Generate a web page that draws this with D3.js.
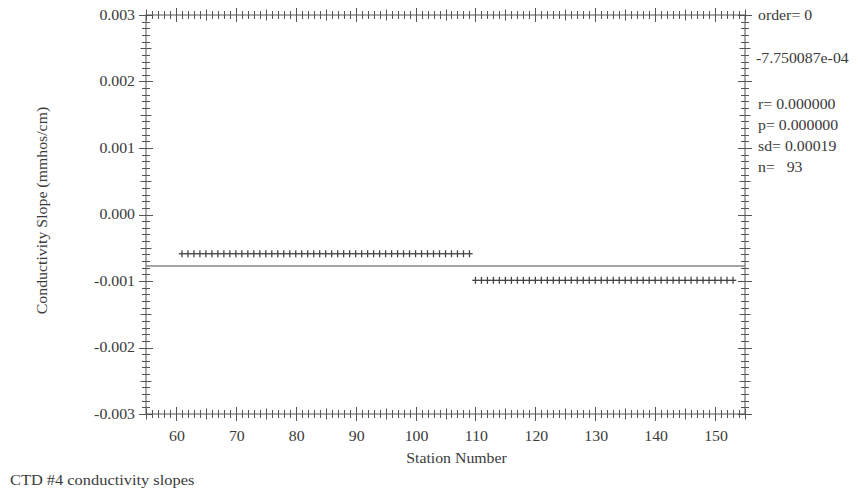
<!DOCTYPE html>
<html>
<head>
<meta charset="utf-8">
<script src="https://cdn.jsdelivr.net/npm/d3@7"></script>
<style>
  html, body { margin: 0; padding: 0; background: #fff; }
</style>
</head>
<body>
<svg id="chart" width="858" height="491"></svg>
<script>
// ---- data ----
const stationsGroupA = d3.range(61, 110);            // stations 61..109
const valueGroupA = -0.00059;
const stationsGroupB = d3.range(110, 154);           // stations 110..153
const valueGroupB = -0.00099;
const meanValue = -7.750087e-04;
const xTickValues = [60, 70, 80, 90, 100, 110, 120, 130, 140, 150];
const yTickValues = [0.003, 0.002, 0.001, 0.000, -0.001, -0.002, -0.003];
const statsLines = ["order= 0", "-7.750087e-04", "r= 0.000000", "p= 0.000000", "sd= 0.00019", "n=   93"];
const xTitle = "Station Number";
const yTitle = "Conductivity Slope (mmhos/cm)";
const caption = "CTD #4 conductivity slopes";

const points = stationsGroupA.map(s => ({x: s, y: valueGroupA}))
  .concat(stationsGroupB.map(s => ({x: s, y: valueGroupB})));

// ---- layout ----
const svg = d3.select("#chart")
  .attr("font-family", "'Liberation Serif', 'Times New Roman', Tinos, 'DejaVu Serif', serif")
  .style("font-family", "'Liberation Serif', 'Times New Roman', Tinos, 'DejaVu Serif', serif");
const pL = 146, pR = 745, pT = 15, pB = 414;
const x = d3.scaleLinear().domain([55, 155]).range([pL, pR]);
const y = d3.scaleLinear().domain([-0.003, 0.003]).range([pB, pT]);
const axisColor = "#555";
const textColor = "#3a3a3a";
const stretch = 1.13;
function stretchText(sel) {
  sel.attr("fill", textColor).each(function() {
    const len = this.getComputedTextLength();
    d3.select(this).attr("textLength", len * stretch).attr("lengthAdjust", "spacingAndGlyphs");
  });
}

// frame
svg.append("rect").attr("x", pL).attr("y", pT).attr("width", pR - pL).attr("height", pB - pT)
  .attr("fill", "none").attr("stroke", axisColor).attr("stroke-width", 1);

// ticks crossing all four sides
const xMinor = d3.range(55, 156, 1);
const yMinor = d3.range(-30, 31, 1).map(v => v / 10000);
function xLen(v) { return v % 10 === 0 ? 7 : (v % 5 === 0 ? 5.5 : 4); }
function yLen(v) {
  const k = Math.round(v * 10000);
  return k % 10 === 0 ? 7 : (k % 5 === 0 ? 5.5 : 4);
}
const tg = svg.append("g").attr("stroke", axisColor).attr("stroke-width", 1);
[pT, pB].forEach(yy => {
  tg.selectAll(null).data(xMinor).enter().append("line")
    .attr("x1", d => Math.round(x(d)) + 0.5).attr("x2", d => Math.round(x(d)) + 0.5)
    .attr("y1", d => yy - xLen(d)).attr("y2", d => yy + xLen(d));
});
[pL, pR].forEach(xx => {
  tg.selectAll(null).data(yMinor).enter().append("line")
    .attr("y1", d => Math.round(y(d)) + 0.5).attr("y2", d => Math.round(y(d)) + 0.5)
    .attr("x1", d => xx - yLen(d)).attr("x2", d => xx + yLen(d));
});

// tick labels
svg.append("g").selectAll("text").data(yTickValues).enter().append("text")
  .attr("x", 135).attr("y", d => y(d)).attr("dy", "0.35em").attr("text-anchor", "end")
  .attr("font-size", 14).text(d => d3.format(".3f")(d).replace("−", "-"))
  .call(stretchText);
svg.append("g").selectAll("text").data(xTickValues).enter().append("text")
  .attr("x", d => x(d) + 1).attr("y", 441).attr("text-anchor", "middle")
  .attr("font-size", 14).text(d => d)
  .call(stretchText);

// titles
svg.append("text").attr("x", (pL + pR) / 2 + 11).attr("y", 463).attr("text-anchor", "middle")
  .attr("font-size", 14).text(xTitle).call(stretchText);
svg.append("text").attr("transform", `translate(47,${(pT + pB) / 2 - 4}) rotate(-90)`)
  .attr("text-anchor", "middle").attr("font-size", 14).text(yTitle).call(stretchText);
svg.append("text").attr("x", 10).attr("y", 485).attr("font-size", 14.5).text(caption).call(stretchText);

// stats text
const statsY = [15, 58, 104, 125, 146, 167];
svg.append("g").selectAll("text").data(statsLines).enter().append("text")
  .attr("x", (d, i) => i === 1 ? 756 : 758).attr("y", (d, i) => statsY[i]).attr("dy", "0.35em")
  .attr("font-size", 14).attr("xml:space", "preserve").style("white-space", "pre").text(d => d)
  .call(stretchText);

// mean line
svg.append("line").attr("x1", pL).attr("x2", pR)
  .attr("y1", y(meanValue)).attr("y2", y(meanValue))
  .attr("stroke", "#888").attr("stroke-width", 1.5);

// plus markers
const mg = svg.append("g").attr("stroke", "#444").attr("stroke-width", 1.3);
const pts = mg.selectAll("g").data(points).enter().append("g")
  .attr("transform", d => `translate(${x(d.x)},${y(d.y)})`);
pts.append("line").attr("x1", -3.2).attr("x2", 3.2).attr("y1", 0).attr("y2", 0);
pts.append("line").attr("x1", 0).attr("x2", 0).attr("y1", -3.5).attr("y2", 3.5);
</script>
</body>
</html>
